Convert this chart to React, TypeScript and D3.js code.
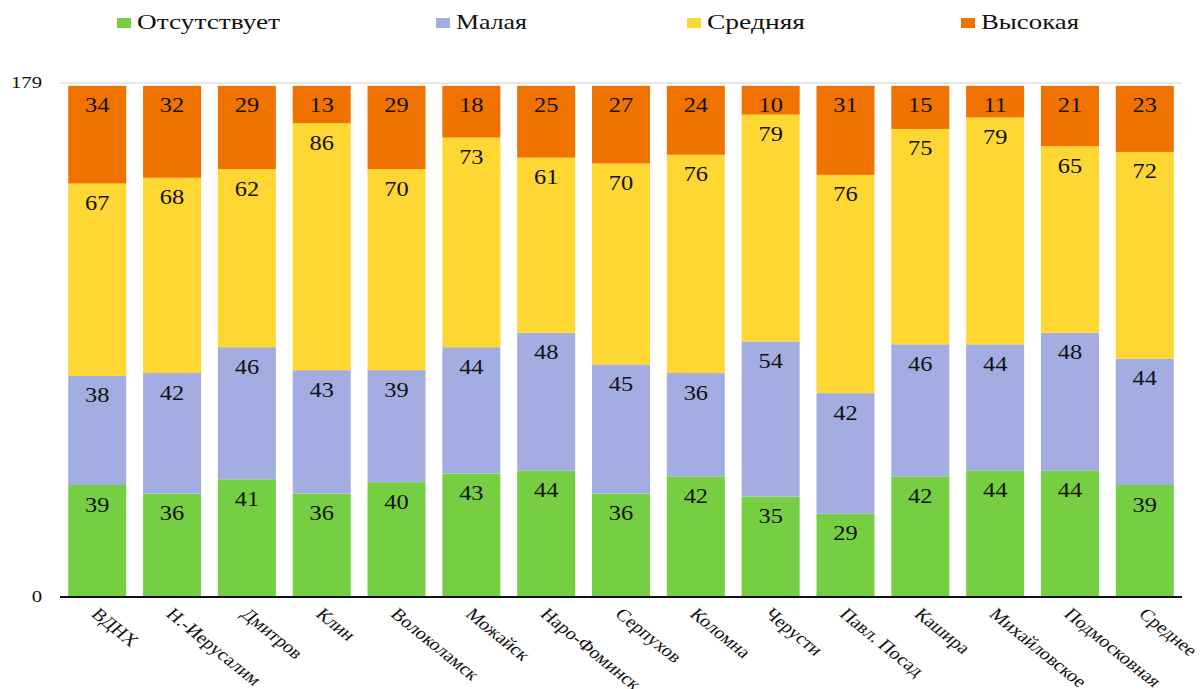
import * as d3 from 'd3';

const categories = ['ВДНХ', 'Н.-Иерусалим', 'Дмитров', 'Клин', 'Волоколамск', 'Можайск', 'Наро-Фоминск', 'Серпухов', 'Коломна', 'Черусти', 'Павл. Посад', 'Кашира', 'Михайловское', 'Подмосковная', 'Среднее'];
const seriesNames = ['Отсутствует', 'Малая', 'Средняя', 'Высокая'];
const absent = [39, 36, 41, 36, 40, 43, 44, 36, 42, 35, 29, 42, 44, 44, 39];
const low = [38, 42, 46, 43, 39, 44, 48, 45, 36, 54, 42, 46, 44, 48, 44];
const medium = [67, 68, 62, 86, 70, 73, 61, 70, 76, 79, 76, 75, 79, 65, 72];
const high = [34, 32, 29, 13, 29, 18, 25, 27, 24, 10, 31, 15, 11, 21, 23];
const yTicks = [0, 179];
const colors = ['#76CF42', '#A3ADE2', '#FED733', '#F07300'];

const FONT = 'Liberation Serif';
// the source picture is stretched sideways, so text is widened a bit
const STRETCH = 1.22;

export default function App() {
  const left = 60, right = 1182, top = 83, bottom = 597;

  const rows = categories.map((c, i) => ({ cat: c, [seriesNames[0]]: absent[i], [seriesNames[1]]: low[i], [seriesNames[2]]: medium[i], [seriesNames[3]]: high[i] }));
  const stacked = d3.stack<any>().keys(seriesNames)(rows);

  const x = d3.scaleBand().domain(categories).range([left, right]).paddingInner(0.225).paddingOuter(0.11);
  const y = d3.scaleLinear().domain([0, 179]).range([bottom, top]);

  // legend placement
  const legendSquare = [117, 436, 687, 961];
  const legendWidth = [143, 71, 98, 98];

  return (
    <svg width={1200} height={689} fontFamily={FONT} style={{ display: 'block', position: 'absolute', left: 0, top: 0, background: '#fff' }}>
      {/* top gridline */}
      <line x1={left} x2={right} y1={y(179)} y2={y(179)} stroke="#d0d0d0" strokeWidth={1} />

      {/* bars + value labels */}
      {stacked.map((layer, si) => (
        <g key={layer.key}>
          {layer.map((d: any) => (
            <rect key={d.data.cat} x={x(d.data.cat)} y={y(d[1])} width={x.bandwidth()} height={y(d[0]) - y(d[1])} fill={colors[si]} />
          ))}
          {layer.map((d: any) => (
            <text
              key={'t' + d.data.cat}
              transform={`translate(${x(d.data.cat)! + x.bandwidth() / 2},${y(d[1]) + 19.5}) scale(${STRETCH},1)`}
              dy="0.35em"
              textAnchor="middle"
              fontFamily={FONT}
              fontSize={20}
              fill="#111"
            >
              {d[1] - d[0]}
            </text>
          ))}
        </g>
      ))}

      {/* baseline */}
      <line x1={left} x2={right} y1={y(0)} y2={y(0)} stroke="#111" strokeWidth={2} />

      {/* y labels */}
      {yTicks.map((t) => (
        <text
          key={t}
          transform={`translate(42,${y(t)}) scale(${STRETCH},1)`}
          dy="0.3em"
          textAnchor="end"
          fontFamily={FONT}
          fontSize={17}
          fill="#111"
        >
          {t}
        </text>
      ))}

      {/* x labels */}
      {categories.map((c) => (
        <text
          key={c}
          transform={`translate(${x(c)! + x.bandwidth() / 2 - 2},${bottom + 14}) scale(1.2,1) rotate(44)`}
          dy="0.35em"
          textAnchor="start"
          fontFamily={FONT}
          fontSize={17}
          fill="#111"
        >
          {c}
        </text>
      ))}

      {/* legend */}
      {seriesNames.map((name, i) => (
        <g key={name}>
          <rect x={legendSquare[i]} y={18} width={14} height={10} fill={colors[i]} />
          <text
            x={legendSquare[i] + 20}
            y={22}
            dy="0.35em"
            fontFamily={FONT}
            fontSize={21}
            textLength={legendWidth[i]}
            lengthAdjust="spacingAndGlyphs"
            fill="#111"
          >
            {name}
          </text>
        </g>
      ))}
    </svg>
  );
}
